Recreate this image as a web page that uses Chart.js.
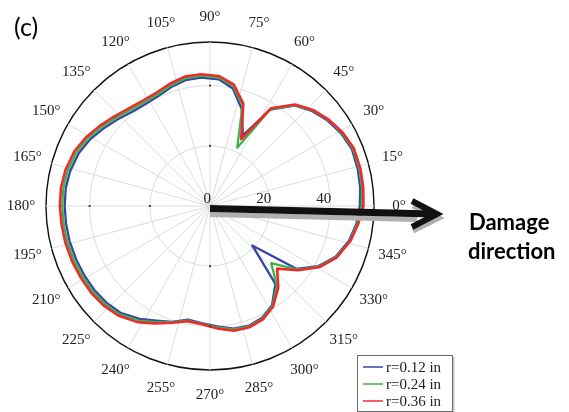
<!DOCTYPE html>
<html>
<head>
<meta charset="utf-8">
<script src="https://cdn.jsdelivr.net/npm/chart.js@4.4.1/dist/chart.umd.min.js"></script>
<style>
  html, body { margin: 0; padding: 0; background: #fff; }
  canvas { display: block; }
</style>
</head>
<body>
<canvas id="polar" width="569" height="412"></canvas>
<script>
// Polar angle (degrees, counter-clockwise from the damage direction) of each measured point
const ANGLES_DEG = [0, 7, 14, 22, 29, 36, 43, 50, 58, 65,
  72, 79, 86, 94, 101, 108, 115, 122, 130, 137,
  144, 151, 158, 166, 173, 180, 187, 194, 202, 209,
  216, 223, 230, 238, 245, 252, 259, 266, 274, 281,
  288, 295, 302, 310, 317, 324, 331, 338, 346, 353];

// Radial response for each hole radius
const R_012 = [49.8, 50.3, 50.6, 50.8, 49.8, 48.3, 46.3, 43.6, 37.8, 25.9,
  34.0, 39.8, 42.2, 42.8, 42.6, 41.6, 40.4, 40.1, 40.7, 42.1,
  43.8, 45.6, 47.0, 47.9, 48.3, 48.3, 48.2, 48.1, 47.9, 47.7,
  47.5, 47.1, 46.3, 44.2, 42.0, 40.5, 38.5, 39.0, 40.2, 41.5,
  41.8, 41.0, 38.9, 33.8, 19.2, 35.5, 41.2, 45.0, 47.6, 49.0];
const R_024 = [50.4, 50.9, 51.1, 51.2, 50.1, 48.6, 46.6, 43.8, 38.0, 21.4,
  35.0, 40.6, 42.8, 43.4, 43.2, 42.2, 41.0, 40.8, 41.5, 42.9,
  44.6, 46.4, 47.8, 48.7, 49.1, 49.1, 49.0, 48.9, 48.7, 48.4,
  48.2, 47.8, 46.9, 44.9, 42.6, 40.6, 38.8, 39.2, 40.5, 41.8,
  42.1, 41.3, 39.2, 34.6, 27.8, 36.0, 41.5, 45.3, 47.9, 49.3];
const R_036 = [51.0, 51.3, 51.5, 51.5, 50.4, 48.8, 46.8, 44.0, 38.3, 24.5,
  35.8, 41.2, 43.3, 43.9, 43.8, 42.8, 41.7, 41.5, 42.2, 43.6,
  45.3, 47.1, 48.6, 49.5, 49.9, 49.9, 49.7, 49.6, 49.4, 49.1,
  48.9, 48.4, 47.5, 45.5, 43.1, 40.8, 39.0, 39.4, 40.9, 42.2,
  42.4, 41.6, 39.5, 35.3, 30.5, 36.3, 41.8, 45.5, 48.1, 49.6];

const SERIES_NAMES = ['r=0.12 in', 'r=0.24 in', 'r=0.36 in'];
const SERIES_COLORS = ['#3546a6', '#3cb44b', '#ec2b2b'];

const RING_TICKS = [0, 20, 40];
const R_MAX = 54.5;
const ANGLE_LABEL_STEP = 15;

const SERIF = '"Liberation Serif", "Times New Roman", serif';

// One slot per degree; slot i sits at angle (360 - i) so the angle grows counter-clockwise.
const SLOTS = 360;
const slotLabels = Array.from({ length: SLOTS }, (_, i) => ((SLOTS - i) % SLOTS) + '\u00B0');
function toSlots(values) {
  const arr = new Array(SLOTS).fill(null);
  ANGLES_DEG.forEach((a, k) => { arr[(SLOTS - a) % SLOTS] = values[k]; });
  return arr;
}

const seriesValues = [R_012, R_024, R_036];
const datasets = seriesValues.map((vals, k) => ({
  label: SERIES_NAMES[k],
  data: toSlots(vals),
  borderColor: SERIES_COLORS[k],
  backgroundColor: SERIES_COLORS[k],
  borderWidth: k === 2 ? 2.6 : 2.3,
  pointRadius: 0,
  pointHoverRadius: 0,
  fill: false,
  tension: 0,
  spanGaps: true,
  order: 2 - k
}));

const decorations = {
  id: 'decorations',
  afterDraw(chart) {
    const ctx = chart.ctx;
    const r = chart.scales.r;
    const cx = r.xCenter, cy = r.yCenter;
    ctx.save();

    // angle labels around the outer circle
    ctx.font = '15px ' + SERIF;
    ctx.fillStyle = '#222';
    ctx.textAlign = 'center';
    ctx.textBaseline = 'middle';
    for (let a = 0; a < 360; a += ANGLE_LABEL_STEP) {
      const idx = (SLOTS - a) % SLOTS;
      const p = r.getPointPosition(idx, r.drawingArea + 25);
      ctx.fillText(slotLabels[idx], p.x, p.y);
    }

    // small marks where the rings cross the vertical / left spokes
    ctx.fillStyle = '#444';
    RING_TICKS.slice(1).forEach(v => {
      const d = r.getDistanceFromCenterForValue(v);
      [[0, -d], [-d, 0], [0, d]].forEach(([dx, dy]) => ctx.fillRect(cx + dx - 1, cy + dy - 1, 2, 2));
    });

    // radial tick labels along the 0 degree spoke
    ctx.font = '15px ' + SERIF;
    ctx.fillStyle = '#222';
    ctx.textAlign = 'right';
    ctx.textBaseline = 'alphabetic';
    RING_TICKS.forEach(v => {
      const d = r.getDistanceFromCenterForValue(v);
      ctx.fillText(String(v), cx + d + 1, cy - 3);
    });

    // damage direction arrow (with its drop shadow)
    const x0 = cx, y0 = cy + 2.5;
    const tipX = cx + 227, tipY = cy + 8;
    const slope = (tipY - y0) / (tipX - x0);
    ctx.lineCap = 'butt';
    ctx.lineJoin = 'miter';
    ctx.strokeStyle = '#b0b0b0';
    ctx.lineWidth = 5;
    ctx.beginPath();
    ctx.moveTo(x0, y0 + 6);
    ctx.lineTo(tipX - 20, y0 + 6 + slope * (tipX - 20 - x0));
    ctx.stroke();
    ctx.beginPath();
    ctx.moveTo(tipX - 24, tipY - 12 + 4);
    ctx.lineTo(tipX + 2, tipY + 4);
    ctx.lineTo(tipX - 24, tipY + 13 + 4);
    ctx.stroke();

    ctx.strokeStyle = '#111';
    ctx.lineWidth = 7;
    ctx.beginPath();
    ctx.moveTo(x0, y0);
    ctx.lineTo(tipX - 4, tipY);
    ctx.stroke();
    ctx.lineWidth = 6;
    ctx.beginPath();
    ctx.moveTo(tipX - 25, tipY - 13);
    ctx.lineTo(tipX, tipY);
    ctx.lineTo(tipX - 25, tipY + 13);
    ctx.stroke();

    ctx.fillStyle = '#000';
    ctx.textAlign = 'left';
    ctx.textBaseline = 'alphabetic';
    ctx.font = 'bold 22px Lato, "Open Sans", sans-serif';
    ctx.fillText('Damage', 469, 230);
    ctx.fillText('direction', 468, 259);

    // panel tag
    ctx.font = '25px Lato, "Open Sans", sans-serif';
    ctx.fillText('(c)', 14, 36);

    // legend box
    const lx = 357, ly = 355, lw = 95, lh = 56;
    ctx.fillStyle = '#fff';
    ctx.fillRect(lx, ly, lw, lh);
    ctx.strokeStyle = '#c8c8c8';
    ctx.lineWidth = 2;
    ctx.beginPath();
    ctx.moveTo(lx + lw + 1.5, ly + 2);
    ctx.lineTo(lx + lw + 1.5, ly + lh + 1.5);
    ctx.lineTo(lx + 2, ly + lh + 1.5);
    ctx.stroke();
    ctx.strokeStyle = '#6a6a6a';
    ctx.lineWidth = 1;
    ctx.strokeRect(lx + 0.5, ly + 0.5, lw, lh);
    ctx.font = '15px ' + SERIF;
    ctx.textBaseline = 'middle';
    SERIES_NAMES.forEach((name, k) => {
      const y = ly + 12 + k * 17;
      ctx.strokeStyle = SERIES_COLORS[k];
      ctx.lineWidth = 1.5;
      ctx.beginPath();
      ctx.moveTo(lx + 6, y);
      ctx.lineTo(lx + 26, y);
      ctx.stroke();
      ctx.fillStyle = '#222';
      ctx.fillText(name, lx + 29, y + 1);
    });

    ctx.restore();
  }
};

new Chart(document.getElementById('polar'), {
  type: 'radar',
  data: { labels: slotLabels, datasets },
  options: {
    responsive: false,
    animation: false,
    layout: { padding: { left: 46, right: 195, top: 42, bottom: 42 } },
    plugins: { legend: { display: false }, tooltip: { enabled: false } },
    elements: { line: { borderJoinStyle: 'round' } },
    scales: {
      r: {
        min: 0,
        max: R_MAX,
        startAngle: 90,
        afterBuildTicks: scale => {
          scale.ticks = RING_TICKS.concat([R_MAX]).map(v => ({ value: v }));
        },
        ticks: { display: false },
        pointLabels: { display: false },
        grid: {
          circular: true,
          color: ctx => (ctx.tick && ctx.tick.value === R_MAX ? '#111' : '#dcdcdc'),
          lineWidth: ctx => (ctx.tick && ctx.tick.value === R_MAX ? 1.4 : 1)
        },
        angleLines: {
          color: '#dcdcdc',
          lineWidth: ctx => (ctx.index % ANGLE_LABEL_STEP === 0 ? 1 : 0)
        }
      }
    }
  },
  plugins: [decorations]
});
</script>
</body>
</html>
